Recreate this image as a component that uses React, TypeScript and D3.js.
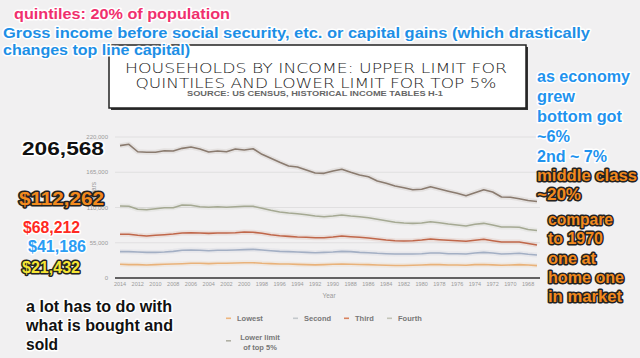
import React from "react";
import * as d3 from "d3";

const years = d3.range(2014, 1966, -1);
const lowest = [21432,20800,20800,20300,20800,21400,21900,22300,22900,22900,22400,22900,22900,23400,23900,23900,22900,22400,21900,21900,21200,20800,20500,20800,21400,21900,21400,21000,20800,20300,20000,19500,19500,19800,20300,20800,20800,20300,20300,19800,20800,21000,20500,19800,20300,20800,20300,19300];
const second = [41186,41100,40600,40000,40000,40600,41600,43200,43700,43200,42600,43200,43200,43700,44200,44700,43700,42600,41600,41100,40600,40000,39500,40000,40600,41600,41100,40000,39500,38500,37900,37400,37400,37400,37900,39000,39000,37900,37900,37400,39000,40000,39000,37400,37900,38500,37000,36000];
const third = [68212,68200,66600,65500,66600,67600,68600,70200,70700,70200,69700,70200,70200,70700,71800,71300,69700,67600,66000,65000,64000,63500,62900,62900,64000,65500,64400,63500,62400,60800,59300,58200,57700,58200,59300,60800,59700,58800,58200,57300,58800,60400,58200,56200,56200,56200,53800,51500];
const fourth = [112262,111850,107200,106500,108100,109700,109700,113900,113400,111200,110300,111200,110300,111200,111900,111900,108700,105600,103000,101400,100300,98700,96700,95600,96700,98300,96700,95600,94100,91600,89400,86900,85800,85300,85800,87800,86300,84200,82700,81100,83800,85300,82700,79600,79600,79100,75700,74100];
const top5 = [206568,208600,197000,196100,196100,198600,198100,202300,204400,201200,196600,198100,197000,201200,199700,201700,193000,186700,180500,174700,173200,168500,163800,163300,166900,169600,164900,160700,158000,151300,147700,143500,140900,137700,138400,142400,138800,135300,132100,128400,133100,137700,134200,126400,125900,123700,120900,119300];

const yTicks = [0, 55000, 110000, 165000, 220000];
const xTickYears = d3.range(2014, 1967, -2);

const seriesNames = ["Lowest", "Second", "Third", "Fourth", "Lower limit of top 5%"];
const seriesColors = ["#e9b27a", "#a3afc4", "#c0674a", "#a5a993", "#8a7b6f"];
const legendColors = ["#eeb57e", "#c4c8cc", "#d9825e", "#c3c4b8", "#b0b0a4"];

const titleLines = ["HOUSEHOLDS BY INCOME: UPPER LIMIT FOR", "QUINTILES AND LOWER LIMIT FOR TOP 5%"];
const sourceText = "SOURCE: US CENSUS, HISTORICAL INCOME TABLES H-1";

const rightNotes = [
  { t: "as economy", x: 537, y: 82, w: 93, c: "blue" },
  { t: "grew", x: 537, y: 102, w: 38, c: "blue" },
  { t: "bottom got", x: 537, y: 122, w: 85, c: "blue" },
  { t: "~6%", x: 537, y: 142, w: 33, c: "blue" },
  { t: "2nd ~ 7%", x: 537, y: 162, w: 70, c: "blue" },
  { t: "middle class", x: 537, y: 181, w: 100, c: "orange" },
  { t: "~20%", x: 537, y: 200, w: 44, c: "orange" },
  { t: "compare", x: 548, y: 225, w: 65, c: "orange" },
  { t: "to 1970", x: 548, y: 244, w: 55, c: "orange" },
  { t: "one at", x: 548, y: 264, w: 48, c: "orange" },
  { t: "home one", x: 548, y: 283, w: 76, c: "orange" },
  { t: "in market", x: 548, y: 302, w: 74, c: "orange" },
];

export default function App() {
  const W = 640, H = 358;
  const x = d3.scaleLinear().domain([2014, 1967]).range([120, 537]);
  const y = d3.scaleLinear().domain([0, 220000]).range([278, 137]);
  const data = [lowest, second, third, fourth, top5];
  const line = d3.line<number>().x((_, i) => x(years[i])).y((d) => y(d)).curve(d3.curveLinear);

  const font = "'Liberation Sans', Arial, Helvetica, sans-serif";
  const halo = (color: string, stroke = "#fff", sw = 3) => ({
    fill: color,
    stroke,
    strokeWidth: sw,
    paintOrder: "stroke" as const,
    strokeLinejoin: "round" as const,
  });

  return (
    <svg width={W} height={H} style={{ position: "absolute", left: 0, top: 0, display: "block" }} fontFamily={font}>
      <rect x={0} y={0} width={W} height={H} fill="#f1f0f1" />
      {/* title box */}
      <rect x={111} y={47} width={417} height={63} fill="#333" />
      <rect x={109} y={45} width={417} height={63} fill="#ffffff" stroke="#222" strokeWidth={1.5} />
      <text x={316} y={73} textAnchor="middle" fontSize={14.5} fill="#222" textLength={382} lengthAdjust="spacingAndGlyphs" fontFamily="'DejaVu Sans', sans-serif" fontWeight={200}>{titleLines[0]}</text>
      <text x={316} y={88} textAnchor="middle" fontSize={14.5} fill="#222" textLength={361} lengthAdjust="spacingAndGlyphs" fontFamily="'DejaVu Sans', sans-serif" fontWeight={200}>{titleLines[1]}</text>
      <text x={315} y={96} textAnchor="middle" fontSize={6.5} fill="#666" fontWeight="bold" textLength={256} lengthAdjust="spacingAndGlyphs">{sourceText}</text>

      {/* grid */}
      {yTicks.map((t) => (
        <g key={t}>
          {t > 0 && <line x1={115} x2={540} y1={y(t)} y2={y(t)} stroke="#e0dfe0" strokeWidth={1} />}
          <text x={108} y={y(t) + 2} textAnchor="end" fontSize={6} fill="#9a9a9a">{d3.format(",")(t)}</text>
        </g>
      ))}
      <line x1={115} x2={540} y1={y(0)} y2={y(0)} stroke="#333" strokeWidth={1.3} />
      {xTickYears.map((yr) => (
        <text key={yr} x={x(yr)} y={286} textAnchor="middle" fontSize={5.5} fill="#9a9a9a">{yr}</text>
      ))}
      <text x={329} y={298} textAnchor="middle" fontSize={6.5} fill="#9a9a9a">Year</text>
      <text transform={`translate(96,192) rotate(-90)`} textAnchor="middle" fontSize={6.5} fill="#9a9a9a">Dollars</text>

      {/* lines */}
      {data.map((s, i) => (
        <g key={i}>
          <path d={line(s) || ""} fill="none" stroke={seriesColors[i]} strokeWidth={5} strokeOpacity={0.12} strokeLinejoin="round" />
          <path d={line(s) || ""} fill="none" stroke={seriesColors[i]} strokeWidth={1.6} strokeLinejoin="round" />
        </g>
      ))}

      {/* legend */}
      {[
        { i: 0, sx: 226, ty: 321 },
        { i: 1, sx: 293, ty: 321 },
        { i: 2, sx: 344, ty: 321 },
        { i: 3, sx: 387, ty: 321 },
      ].map(({ i, sx, ty }) => (
        <g key={i}>
          <rect x={sx} y={ty - 3.5} width={5} height={1.6} fill={legendColors[i]} />
          <text x={sx + 11} y={ty} fontSize={7.5} fill="#777" fontWeight="bold">{seriesNames[i]}</text>
        </g>
      ))}
      <rect x={226} y={340} width={5} height={1.6} fill={legendColors[4]} />
      <text x={260} y={340} textAnchor="middle" fontSize={7.5} fill="#777" fontWeight="bold">Lower limit</text>
      <text x={260} y={350} textAnchor="middle" fontSize={7.5} fill="#777" fontWeight="bold">of top 5%</text>

      {/* annotations */}
      <g fontWeight="bold">
        <text x={14} y={19} fontSize={15} {...halo("#f0306e")} textLength={216} lengthAdjust="spacingAndGlyphs">quintiles: 20% of population</text>
        <text x={3} y={38} fontSize={15} {...halo("#1d8fe6")} textLength={587} lengthAdjust="spacingAndGlyphs">Gross income before social security, etc.  or capital gains (which drastically</text>
        <text x={3} y={55} fontSize={15} {...halo("#1d8fe6")} textLength={187} lengthAdjust="spacingAndGlyphs">changes top line capital)</text>

        <text x={22} y={155} fontSize={18} {...halo("#111")} textLength={82} lengthAdjust="spacingAndGlyphs">206,568</text>
        <text x={19} y={205} fontSize={18} {...halo("#f28a1e", "#222", 3)} textLength={85} lengthAdjust="spacingAndGlyphs">$112,262</text>
        <text x={23} y={233} fontSize={16} {...halo("#ff2a22")} textLength={57} lengthAdjust="spacingAndGlyphs">$68,212</text>
        <text x={28} y={252} fontSize={16} {...halo("#2a9df4")} textLength={58} lengthAdjust="spacingAndGlyphs">$41,186</text>
        <text x={22} y={273} fontSize={16} {...halo("#f6e534", "#222", 3)} textLength={58} lengthAdjust="spacingAndGlyphs">$21,432</text>

        <text x={26} y={312} fontSize={16.5} {...halo("#111")} textLength={146} lengthAdjust="spacingAndGlyphs">a lot has to do with</text>
        <text x={26} y={331} fontSize={16.5} {...halo("#111")} textLength={147} lengthAdjust="spacingAndGlyphs">what is bought and</text>
        <text x={26} y={350} fontSize={16.5} {...halo("#111")} textLength={32} lengthAdjust="spacingAndGlyphs">sold</text>

        {rightNotes.map((n) => (
          <text key={n.t} x={n.x} y={n.y} fontSize={16}
            {...(n.c === "blue" ? halo("#1f93ee") : halo("#f28a1e", "#222", 3))}
            textLength={n.w} lengthAdjust="spacingAndGlyphs">{n.t}</text>
        ))}
      </g>
    </svg>
  );
}
